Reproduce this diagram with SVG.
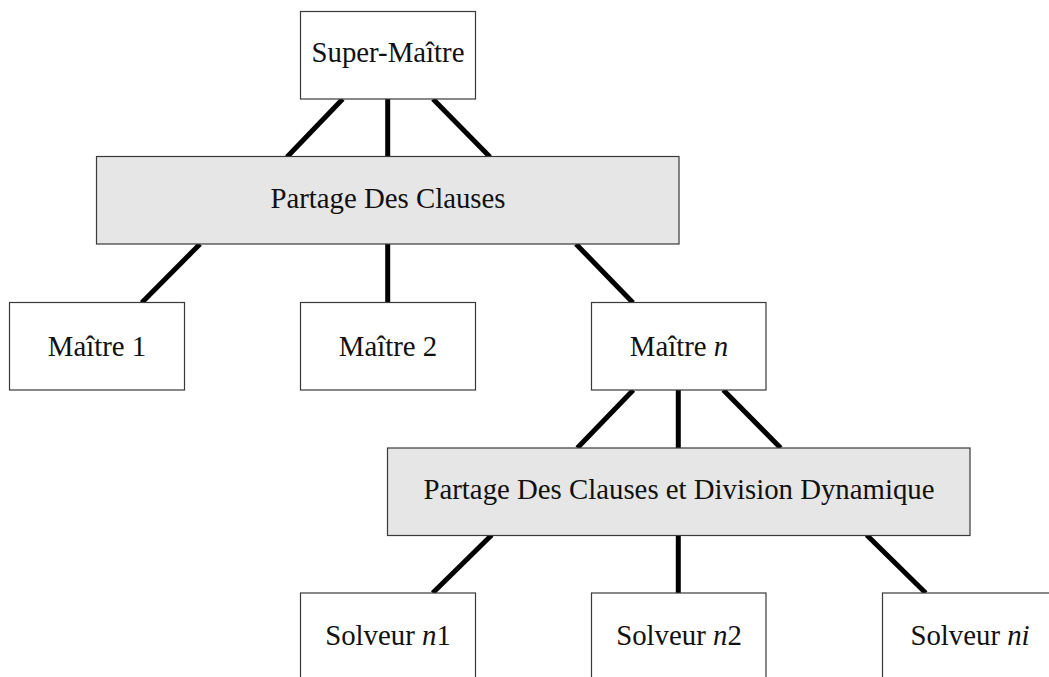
<svg xmlns="http://www.w3.org/2000/svg" width="1049" height="677" viewBox="0 0 1049 677">
<style>
.box{fill:#ffffff;stroke:#3a3a3a;stroke-width:1.2}
.share{fill:#e6e6e6;stroke:#3a3a3a;stroke-width:1.2}
.lbl{font-family:"Liberation Serif","Times New Roman",serif;font-size:28.8px;fill:#111;text-anchor:middle}
.it{font-style:italic}
.conn line{stroke:#000;stroke-width:5}
</style>
<rect width="1049" height="677" fill="#fff"/>
<g id="connectors" class="conn">
<line x1="342.7" y1="99" x2="287" y2="157"/>
<line x1="387.7" y1="99" x2="387.7" y2="157"/>
<line x1="433" y1="99" x2="490" y2="157"/>
<line x1="200" y1="244" x2="141.7" y2="302.7"/>
<line x1="387.7" y1="244" x2="387.7" y2="302.7"/>
<line x1="576" y1="244" x2="633" y2="302.7"/>
<line x1="633.3" y1="390" x2="577.3" y2="448"/>
<line x1="678.3" y1="390" x2="678.3" y2="448"/>
<line x1="723.3" y1="390" x2="780.7" y2="448"/>
<line x1="491.7" y1="535" x2="432.7" y2="593"/>
<line x1="678.3" y1="535" x2="678.3" y2="593"/>
<line x1="866.7" y1="535" x2="925.7" y2="593"/>
</g>
<g id="super-maitre">
<rect class="box" x="300.5" y="11.5" width="175" height="87.5"/>
<text class="lbl" x="388" y="62">Super-Maître</text>
</g>
<g id="partage1">
<rect class="share" x="96.5" y="156.5" width="582.5" height="87.5"/>
<text class="lbl" x="388" y="208">Partage Des Clauses</text>
</g>
<g id="maitre1">
<rect class="box" x="9.5" y="302.5" width="175" height="87.5"/>
<text class="lbl" x="97" y="356">Maître 1</text>
</g>
<g id="maitre2">
<rect class="box" x="300.5" y="302.5" width="175" height="87.5"/>
<text class="lbl" x="388" y="356">Maître 2</text>
</g>
<g id="maitren">
<rect class="box" x="591.5" y="302.5" width="174.5" height="87.5"/>
<text class="lbl" x="679" y="356">Maître <tspan class="it">n</tspan></text>
</g>
<g id="partage2">
<rect class="share" x="387.5" y="448" width="582.5" height="87.5"/>
<text class="lbl" x="679" y="499">Partage Des Clauses et Division Dynamique</text>
</g>
<g id="solveur-n1">
<rect class="box" x="300.5" y="593" width="175" height="87.5"/>
<text class="lbl" x="388" y="645">Solveur <tspan class="it">n</tspan>1</text>
</g>
<g id="solveur-n2">
<rect class="box" x="591.5" y="593" width="174.5" height="87.5"/>
<text class="lbl" x="679" y="645">Solveur <tspan class="it">n</tspan>2</text>
</g>
<g id="solveur-ni">
<rect class="box" x="882.5" y="593" width="175" height="87.5"/>
<text class="lbl" x="970" y="645">Solveur <tspan class="it">ni</tspan></text>
</g>
</svg>
